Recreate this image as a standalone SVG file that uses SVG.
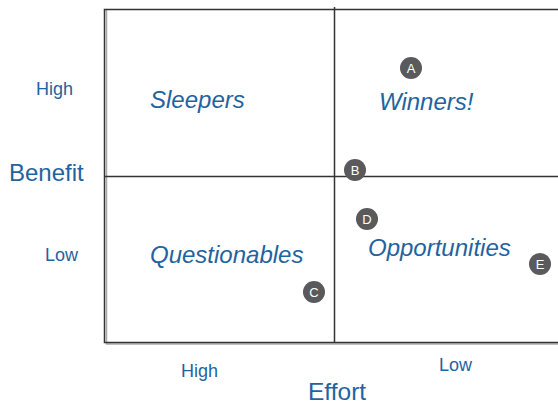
<svg xmlns="http://www.w3.org/2000/svg" width="558" height="404" viewBox="0 0 558 404">
<style>
.q{font-family:"Liberation Sans",Arial,sans-serif;font-style:italic;font-size:24px;fill:#1f63a0}
.a{font-family:"Liberation Sans",Arial,sans-serif;fill:#1f63a0}
.ln{stroke:#333;stroke-width:1.5;fill:none}
.sh{stroke:#aaa;stroke-width:1.5;fill:none}
.dot circle{fill:#5a5a5c}
.dot text{font-family:"Liberation Sans",Arial,sans-serif;font-size:13px;fill:#fff;text-anchor:middle}
</style>
<rect width="558" height="404" fill="#fff"/>
<g id="grid">
<polyline class="sh" points="106.5,10 106.5,344 558,344"/>
<polyline class="ln" points="558,9.5 104.5,9.5 104.5,342.5 558,342.5"/>
<line class="ln" x1="334.5" y1="7" x2="334.5" y2="342"/>
<line class="ln" x1="104" y1="176.5" x2="558" y2="176.5"/>
</g>
<g id="labels">
<text class="q" x="150" y="108">Sleepers</text>
<text class="q" x="379" y="110">Winners!</text>
<text class="q" x="150" y="263">Questionables</text>
<text class="q" x="368" y="256">Opportunities</text>
<text class="a" x="36" y="95" font-size="18">High</text>
<text class="a" x="45" y="261" font-size="18">Low</text>
<text class="a" x="9" y="181" font-size="24">Benefit</text>
<text class="a" x="181" y="377" font-size="18">High</text>
<text class="a" x="439" y="371" font-size="18">Low</text>
<text class="a" x="308" y="400" font-size="24.5">Effort</text>
</g>
<g id="A" class="dot"><circle cx="411" cy="68" r="11"/><text x="411" y="72.5">A</text></g>
<g id="B" class="dot"><circle cx="355" cy="170" r="11"/><text x="355" y="174.5">B</text></g>
<g id="C" class="dot"><circle cx="314" cy="292" r="11"/><text x="314" y="296.5">C</text></g>
<g id="D" class="dot"><circle cx="367" cy="219" r="11"/><text x="367" y="223.5">D</text></g>
<g id="E" class="dot"><circle cx="540" cy="264" r="11"/><text x="540" y="268.5">E</text></g>
</svg>
